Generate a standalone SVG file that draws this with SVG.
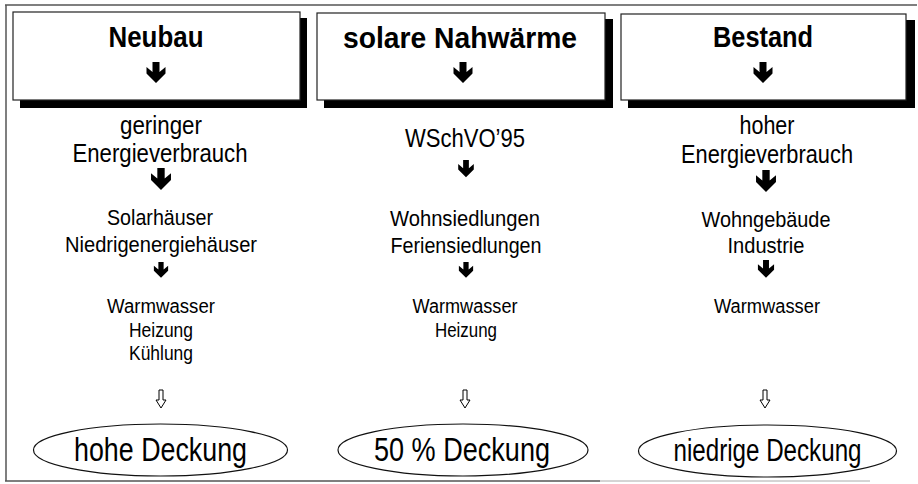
<svg xmlns="http://www.w3.org/2000/svg" width="918" height="484" viewBox="0 0 918 484">
<style>
.t{font-family:"Liberation Sans",Arial,sans-serif;fill:#000;text-anchor:middle}
.b{font-weight:bold;font-size:30px}
.l1{font-size:25px}
.l2{font-size:22px}
.l3{font-size:20px}
.l4{font-size:33px}
.box{fill:#fff;stroke:#222;stroke-width:1.2}
.sh{fill:#000}
.ell{fill:#fff;stroke:#111;stroke-width:1.2}
.frame{stroke:#555;stroke-width:1.5;fill:none}
.hollow{fill:#fff;stroke:#000;stroke-width:1}
</style>
<defs>
<path id="ar" d="M-3.5 0H3.5V10L9.5 5V11.5L0 21L-9.5 11.5V5L-3.5 10Z" fill="#000"/>
<path id="har" d="M-2 0H2V10H5L0 18L-5 10H-2Z"/>
</defs>
<rect width="918" height="484" fill="#fff"/>
<g id="frame">
<line class="frame" x1="5" y1="5" x2="917" y2="5"/>
<line class="frame" x1="6" y1="5" x2="6" y2="481"/>
<line class="frame" x1="5" y1="481" x2="600" y2="481"/>
<line x1="600" y1="481" x2="870" y2="481" stroke="#aaa" stroke-width="1"/>
</g>
<g id="neubau">
<rect class="sh" x="20" y="18" width="287" height="90"/>
<rect class="box" x="13" y="12" width="287" height="88"/>
<text class="t b" x="156" y="47" textLength="95" lengthAdjust="spacingAndGlyphs">Neubau</text>
<use href="#ar" transform="translate(156,62)"/>
</g>
<g id="nahwaerme">
<rect class="sh" x="324" y="19" width="289" height="89"/>
<rect class="box" x="317" y="13" width="288" height="87"/>
<text class="t b" x="460" y="48" textLength="234" lengthAdjust="spacingAndGlyphs">solare Nahwärme</text>
<use href="#ar" transform="translate(463,62)"/>
</g>
<g id="bestand">
<rect class="sh" x="628" y="20" width="287" height="88"/>
<rect class="box" x="621" y="14" width="285" height="86"/>
<text class="t b" x="763" y="47" textLength="100" lengthAdjust="spacingAndGlyphs">Bestand</text>
<use href="#ar" transform="translate(763,62)"/>
</g>
<g id="col1">
<text class="t l1" x="161" y="134" textLength="82" lengthAdjust="spacingAndGlyphs">geringer</text>
<text class="t l1" x="160" y="162" textLength="175" lengthAdjust="spacingAndGlyphs">Energieverbrauch</text>
<text class="t l2" x="160" y="225" textLength="106" lengthAdjust="spacingAndGlyphs">Solarhäuser</text>
<text class="t l2" x="161" y="252" textLength="192" lengthAdjust="spacingAndGlyphs">Niedrigenergiehäuser</text>
<text class="t l3" x="161" y="313" textLength="108" lengthAdjust="spacingAndGlyphs">Warmwasser</text>
<text class="t l3" x="161" y="337" textLength="64" lengthAdjust="spacingAndGlyphs">Heizung</text>
<text class="t l3" x="161" y="360" textLength="64" lengthAdjust="spacingAndGlyphs">Kühlung</text>
</g>
<g id="col2">
<text class="t l1" x="465" y="147" textLength="120" lengthAdjust="spacingAndGlyphs">WSchVO’95</text>
<text class="t l2" x="465" y="226" textLength="150" lengthAdjust="spacingAndGlyphs">Wohnsiedlungen</text>
<text class="t l2" x="466" y="253" textLength="151" lengthAdjust="spacingAndGlyphs">Feriensiedlungen</text>
<text class="t l3" x="465" y="313" textLength="105" lengthAdjust="spacingAndGlyphs">Warmwasser</text>
<text class="t l3" x="466" y="337" textLength="62" lengthAdjust="spacingAndGlyphs">Heizung</text>
</g>
<g id="col3">
<text class="t l1" x="767" y="134" textLength="55" lengthAdjust="spacingAndGlyphs">hoher</text>
<text class="t l1" x="767" y="163" textLength="172" lengthAdjust="spacingAndGlyphs">Energieverbrauch</text>
<text class="t l2" x="766" y="227" textLength="129" lengthAdjust="spacingAndGlyphs">Wohngebäude</text>
<text class="t l2" x="766" y="253" textLength="77" lengthAdjust="spacingAndGlyphs">Industrie</text>
<text class="t l3" x="767" y="313" textLength="106" lengthAdjust="spacingAndGlyphs">Warmwasser</text>
</g>
<g id="result1">
<ellipse class="ell" cx="160.5" cy="450" rx="127" ry="26"/>
<text class="t l4" x="160.5" y="461" textLength="173" lengthAdjust="spacingAndGlyphs">hohe Deckung</text>
</g>
<g id="result2">
<ellipse class="ell" cx="463" cy="450" rx="125" ry="26"/>
<text class="t l4" x="462" y="461" textLength="176" lengthAdjust="spacingAndGlyphs">50 % Deckung</text>
</g>
<g id="result3">
<ellipse class="ell" cx="767.5" cy="451" rx="129" ry="26"/>
<text class="t" style="font-size:31px" x="767.5" y="461" textLength="188" lengthAdjust="spacingAndGlyphs">niedrige Deckung</text>
</g>
<g id="connectors">
<use href="#ar" transform="translate(161,168) scale(1.05)"/>
<use href="#ar" transform="translate(161,262) scale(0.75)"/>
<use href="#ar" transform="translate(466,160) scale(0.82)"/>
<use href="#ar" transform="translate(466,262) scale(0.75)"/>
<use href="#ar" transform="translate(766,170) scale(1.05)"/>
<use href="#ar" transform="translate(766,260) scale(0.85)"/>
<use href="#har" class="hollow" transform="translate(161,390)"/>
<use href="#har" class="hollow" transform="translate(465,390)"/>
<use href="#har" class="hollow" transform="translate(765,390)"/>
</g>
</svg>
